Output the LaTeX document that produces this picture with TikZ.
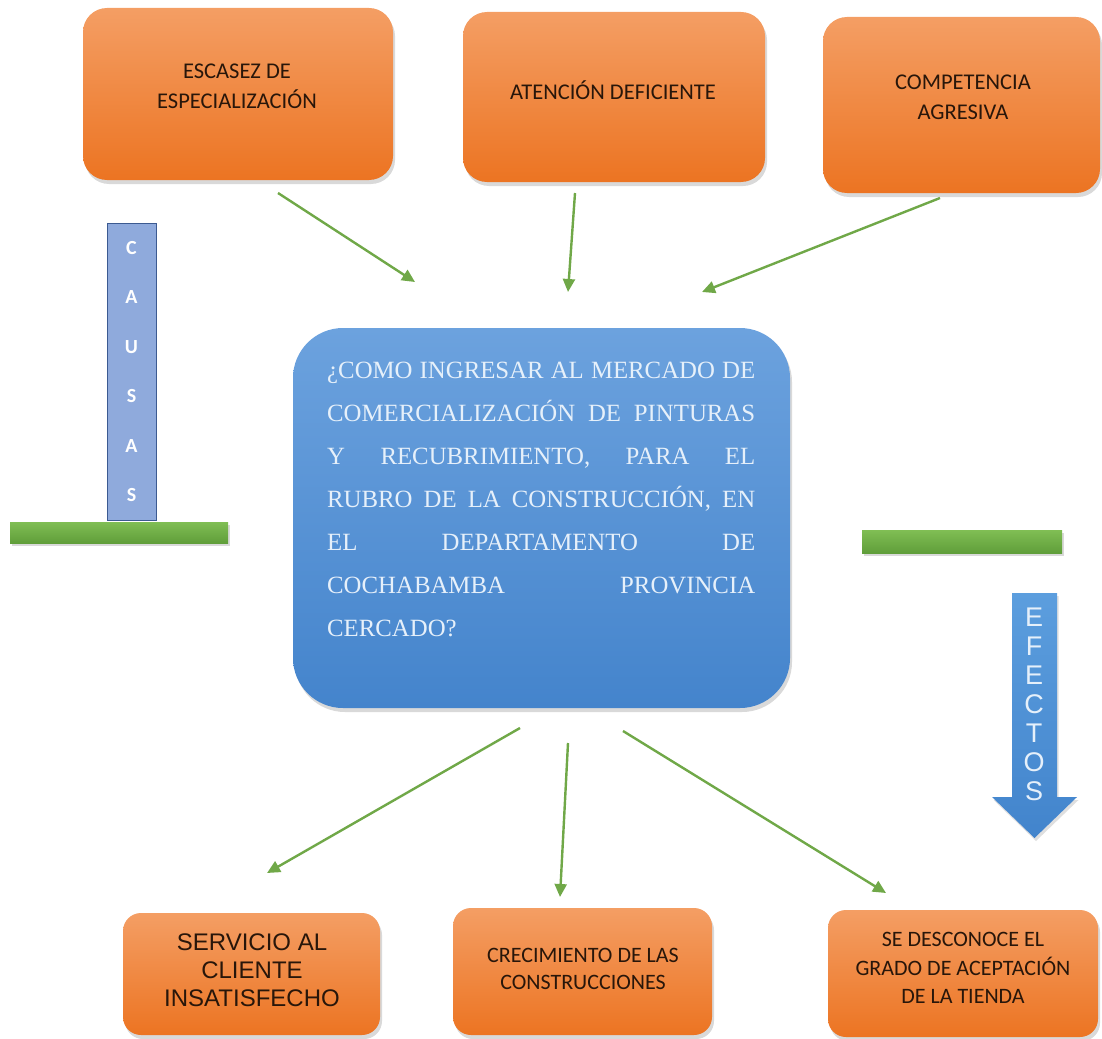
\documentclass[tikz,border=0pt]{standalone}
\usepackage{fontspec}
\setmainfont{Liberation Serif}
\newfontfamily\calib{Carlito}
\newfontfamily\arialf{Liberation Sans}
\usetikzlibrary{arrows.meta,shadows}
\definecolor{orgtop}{RGB}{244,158,100}
\definecolor{orgbot}{RGB}{236,116,34}
\definecolor{txtdark}{RGB}{40,22,10}
\definecolor{bluetop}{RGB}{108,162,222}
\definecolor{bluebot}{RGB}{68,132,204}
\definecolor{qtext}{RGB}{230,240,250}
\definecolor{causfill}{RGB}{143,170,220}
\definecolor{causdraw}{RGB}{60,90,145}
\definecolor{greentop}{RGB}{128,190,84}
\definecolor{greenbot}{RGB}{96,158,58}
\definecolor{arrowgreen}{RGB}{112,168,72}
\definecolor{efftop}{RGB}{92,158,222}
\definecolor{effbot}{RGB}{66,132,204}
\begin{document}
\begin{tikzpicture}[x=1pt,y=-1pt,
  obox/.style={draw=none, rounded corners=24pt, top color=orgtop, bottom color=orgbot,
    drop shadow={shadow xshift=2pt, shadow yshift=-4pt, opacity=0.3}, inner sep=0pt},
  otext/.style={font=\calib\fontsize{22.5}{30}\selectfont, text=txtdark, align=center, inner sep=0pt},
  atext/.style={font=\arialf\fontsize{24}{28}\selectfont, text=txtdark, align=center, inner sep=0pt},
  qbox/.style={draw=none, rounded corners=50pt, top color=bluetop, bottom color=bluebot,
    drop shadow={shadow xshift=2pt, shadow yshift=-4pt, opacity=0.3}, inner sep=0pt},
  gbar/.style={draw=none, top color=greentop, bottom color=greenbot,
    drop shadow={shadow xshift=1.5pt, shadow yshift=-3pt, opacity=0.3}, inner sep=0pt},
  cletter/.style={font=\calib\bfseries\fontsize{20}{20}\selectfont, text=white, inner sep=0pt},
  eletter/.style={font=\arialf\fontsize{27}{27}\selectfont, text=qtext, inner sep=0pt},
  garrow/.style={draw=arrowgreen, line width=2.4pt, -{Triangle[length=13pt,width=12pt]}}
]
\useasboundingbox (0,0) rectangle (1102,1038);

% top cause boxes
\node[obox, minimum width=310pt, minimum height=172pt] (b1) at (238,94) {};
\node[otext] (t1) at (237,86) {ESCASEZ DE\\ESPECIALIZACIÓN};
\node[obox, minimum width=302pt, minimum height=170pt] (b2) at (614,97) {};
\node[otext] (t2) at (613,90) {ATENCIÓN DEFICIENTE};
\node[obox, minimum width=277pt, minimum height=176pt] (b3) at (961.5,105) {};
\node[otext] (t3) at (963,97) {COMPETENCIA\\AGRESIVA};

% central question box
\node[qbox, minimum width=497pt, minimum height=380pt] (q) at (541.5,518) {};
\node[anchor=base west, inner sep=0pt, text=qtext] (qt) at (327,378.5) {%
\begin{minipage}[t]{428pt}\fontsize{24.8}{43}\selectfont
\hbox to \linewidth{¿COMO\hfill INGRESAR\hfill AL\hfill MERCADO\hfill DE}
\hbox to \linewidth{COMERCIALIZACIÓN\hfill DE\hfill PINTURAS}
\hbox to \linewidth{Y\hfill RECUBRIMIENTO,\hfill PARA\hfill EL}
\hbox to \linewidth{RUBRO\hfill DE\hfill LA\hfill CONSTRUCCIÓN,\hfill EN}
\hbox to \linewidth{EL\hfill DEPARTAMENTO\hfill DE}
\hbox to \linewidth{COCHABAMBA\hfill PROVINCIA}
\hbox to \linewidth{CERCADO?\hfill}
\end{minipage}};

% CAUSAS bar
\node[draw=causdraw, line width=0.8pt, fill=causfill, minimum width=49pt, minimum height=297pt, inner sep=0pt] (caus) at (131.5,371.5) {};
\foreach \l [count=\i from 0] in {C,A,U,S,A,S}
  \node[cletter] (c\i) at (131.5,{248+49.4*\i}) {\l};

% green bars
\node[gbar, minimum width=218pt, minimum height=21pt] (gl) at (119,532.5) {};
\node[gbar, minimum width=200pt, minimum height=23pt] (gr) at (962,541.5) {};

% EFECTOS arrow
\shade[top color=efftop, bottom color=effbot, drop shadow={shadow xshift=1.5pt, shadow yshift=-3pt, opacity=0.25}]
  (1012,593) -- (1057,593) -- (1057,797) -- (1077,797) -- (1034.5,838) -- (992,797) -- (1012,797) -- cycle;
\foreach \l [count=\i from 0] in {E,F,E,C,T,O,S}
  \node[eletter] (e\i) at (1034,{617+29*\i}) {\l};

% bottom effect boxes
\node[obox, rounded corners=18pt, minimum width=257pt, minimum height=122pt] (b4) at (251.5,974) {};
\node[atext] (t4) at (252,970) {SERVICIO AL\\CLIENTE\\INSATISFECHO};
\node[obox, rounded corners=18pt, minimum width=259pt, minimum height=127pt] (b5) at (582.5,971.5) {};
\node[otext, font=\calib\fontsize{22}{27}\selectfont] (t5) at (583,968.5) {CRECIMIENTO DE LAS\\CONSTRUCCIONES};
\node[obox, rounded corners=18pt, minimum width=270pt, minimum height=127pt] (b6) at (963,973.5) {};
\node[otext, font=\calib\fontsize{22}{28.5}\selectfont] (t6) at (963,968) {SE DESCONOCE EL\\GRADO DE ACEPTACIÓN\\DE LA TIENDA};

% connector end points
\coordinate (a1s) at (278,193); \coordinate (a1e) at (415,282);
\coordinate (a2s) at (575,193); \coordinate (a2e) at (568,292);
\coordinate (a3s) at (940,198); \coordinate (a3e) at (702,292);
\coordinate (a4s) at (520,728); \coordinate (a4e) at (267,873);
\coordinate (a5s) at (568,743); \coordinate (a5e) at (560,897);
\coordinate (a6s) at (623,731); \coordinate (a6e) at (886,893);
\draw[garrow] (a1s) -- (a1e);
\draw[garrow] (a2s) -- (a2e);
\draw[garrow] (a3s) -- (a3e);
\draw[garrow] (a4s) -- (a4e);
\draw[garrow] (a5s) -- (a5e);
\draw[garrow] (a6s) -- (a6e);
\end{tikzpicture}
\end{document}
